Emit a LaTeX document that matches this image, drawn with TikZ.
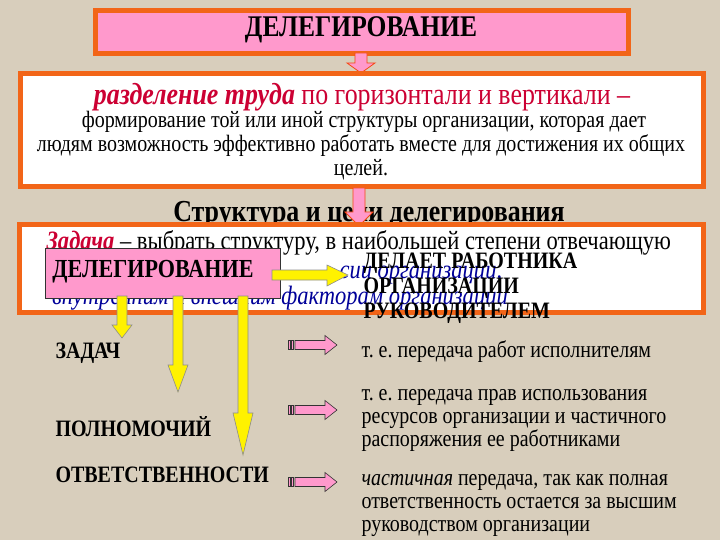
\documentclass[tikz,border=0pt]{standalone}
\usepackage{fontspec}
\setmainfont{Liberation Serif}[FakeStretch=0.85]
\usetikzlibrary{positioning}
\frenchspacing

\definecolor{bgbeige}{RGB}{216,206,188}
\definecolor{frameorange}{RGB}{242,101,24}
\definecolor{boxpink}{RGB}{255,153,204}
\definecolor{textred}{RGB}{204,0,51}
\definecolor{textblue}{RGB}{0,0,153}

\tikzset{
  framebox/.style={draw=frameorange,line width=5pt},
  pinkarrow/.style={fill=boxpink,draw=frameorange!70!red,line width=.8pt},
  yellowarrow/.style={fill=yellow,draw=black!45,line width=.6pt},
  stripearrow/.style={fill=boxpink,draw=black!80,line width=.6pt},
  bigcaps/.style={font=\fontsize{23.5}{26}\selectfont\bfseries,anchor=west},
  listcaps/.style={font=\fontsize{23.5}{26}\selectfont\bfseries,anchor=west},
  plain/.style={font=\fontsize{23.5}{24}\selectfont},
  bluetext/.style={font=\fontsize{26.5}{28}\selectfont\itshape,text=textblue,anchor=west},
  sidetext/.style={font=\fontsize{23.5}{23}\selectfont,anchor=west}
}

\begin{document}
\begin{tikzpicture}[x=1pt,y=-1pt]
  % background
  \fill[bgbeige] (0,0) rectangle (720,540);
  \useasboundingbox (0,0) rectangle (720,540);
  % title box
  \draw[framebox,fill=boxpink] (95,11) rectangle (628,54);
  \node at(361,30)(title){\fontsize{30}{34}\selectfont\bfseries ДЕЛЕГИРОВАНИЕ};
  % arrow 1
  \draw[pinkarrow] (355,53) -- (355,63) -- (347,63) -- (361,73) -- (375,63) -- (367,63) -- (367,53) -- cycle;
  % definition box
  \draw[framebox,fill=white] (20,74) rectangle (703,187);
  \node at(362,97)(defa){\fontsize{30.5}{32}\selectfont\color{textred}\textbf{\textit{разделение труда}} по горизонтали и вертикали –};
  \node[plain] at(364,122)(defb){формирование той или иной структуры организации, которая дает};
  \node[plain] at(361,146)(defc){людям возможность эффективно работать вместе для достижения их общих};
  \node[plain] at(361,170)(defd){целей.};
  % structure title
  \node at(369,215)(struct){\fontsize{30.5}{34}\selectfont\bfseries Структура и цели делегирования};
  % arrow 2
  \draw[pinkarrow] (353,188) -- (353,212) -- (345,212) -- (359,226) -- (373,212) -- (365,212) -- (365,188) -- cycle;
  % goal box
  \draw[framebox,fill=white] (19,225) rectangle (703,312);
  \node[plain,anchor=west] at(43,243)(goala){\fontsize{26.5}{28}\selectfont\textcolor{textred}{\textbf{\textit{Задача}}} – выбрать структуру, в наибольшей степени отвечающую};
  \node[bluetext] at(336,275)(goalb){сии организации,};
  \node[bluetext] at(41,298)(goalc){-внутренним и внешним факторам организации};
  % delegation box
  \draw[fill=boxpink,draw=black!80,line width=.6pt] (45,248) rectangle (280,298);
  \node at(153,272)(deleg){\fontsize{26}{30}\selectfont\bfseries ДЕЛЕГИРОВАНИЕ};
  % yellow arrows
  \draw[yellowarrow] (272,270) -- (327,270) -- (327,265) -- (348,275) -- (327,286) -- (327,280) -- (272,280) -- cycle;
  \draw[yellowarrow] (117,296) -- (117,325) -- (112,325) -- (122,338) -- (132,325) -- (127,325) -- (127,296) -- cycle;
  \draw[yellowarrow] (173,296) -- (173,365) -- (168,365) -- (178,392) -- (188,365) -- (183,365) -- (183,296) -- cycle;
  \draw[yellowarrow] (238,296) -- (238,413) -- (233,413) -- (243,455) -- (253,413) -- (248,413) -- (248,296) -- cycle;
  % makes
  \node[bigcaps] at(360,263)(makea){ДЕЛАЕТ РАБОТНИКА};
  \node[bigcaps] at(360,288)(makeb){ОРГАНИЗАЦИИ};
  \node[bigcaps] at(360,313)(makec){РУКОВОДИТЕЛЕМ};
  % what is delegated
  \node[listcaps] at(52,353)(tasks){ЗАДАЧ};
  \node[listcaps] at(52,427)(powers){ПОЛНОМОЧИЙ};
  \node[listcaps] at(52,475)(duty){ОТВЕТСТВЕННОСТИ};
  % striped arrows
  \foreach \y in {345,410,482}{
    \draw[stripearrow] (288,\y-4.5) rectangle (290,\y+4.5);
    \draw[stripearrow] (291.5,\y-4.5) rectangle (293.5,\y+4.5);
    \draw[stripearrow] (295,\y-4.5) -- (325,\y-4.5) -- (325,\y-9.5) -- (337,\y) -- (325,\y+9.5) -- (325,\y+4.5) -- (295,\y+4.5) -- cycle;
  }
  % explanations
  \node[sidetext] at(358,352)(expa){т. е. передача работ исполнителям};
  \node[sidetext,align=left] at(358,420)(expb){т. е. передача прав использования\\ресурсов организации и частичного\\распоряжения ее работниками};
  \node[sidetext,align=left] at(358,505)(expc){\textit{частичная} передача, так как полная\\ответственность остается за высшим\\руководством организации};
\end{tikzpicture}
\end{document}
